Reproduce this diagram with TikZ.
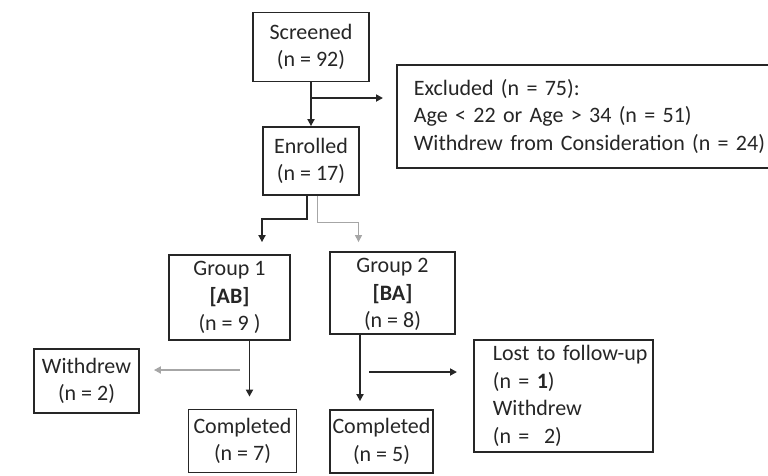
\documentclass[tikz,border=0pt]{standalone}
\usepackage{fontspec}
\setmainfont{Carlito}
\usetikzlibrary{arrows.meta}

\tikzset{
  box/.style={draw=black!85, line width=1.8pt, fill=white, align=center,
    inner sep=0pt, text=black!85, font=\fontsize{22}{27.5}\selectfont},
  flow/.style={line width=1.7pt, draw=black!85, -{Triangle[length=7pt,width=7pt]}},
  faint/.style={flow, draw=black!35}
}

\begin{document}
\begin{tikzpicture}[x=1pt, y=-1pt]
  \useasboundingbox (0,0) rectangle (768,475);

  \node[box, minimum width=116pt, minimum height=69pt] (scr) at (311,47) {Screened\\(n = 92)};
  \node[box, anchor=north west, minimum height=103pt, inner xsep=17pt, text width=400pt,
    align=left] (exc) at (396,64)
    {Excluded (n = 75):\\Age < 22 or Age > 34 (n = 51)\\Withdrew from Consideration (n = 24)};
  \node[box, minimum width=96pt, minimum height=68pt] (enr) at (311,161) {Enrolled\\(n = 17)};

  \node[box, minimum width=121pt, minimum height=85pt] (g1) at (229.5,297.5)
    {Group 1\\\textbf{[AB]}\\(n = 9 )};
  \node[box, minimum width=125pt, minimum height=82pt, text depth=-4pt] (g2) at (392.5,293)
    {Group 2\\\textbf{[BA]}\\(n = 8)};

  \node[box, minimum width=105pt, minimum height=64pt] (wd) at (86.5,381) {Withdrew\\(n = 2)};
  \node[box, minimum width=108pt, minimum height=63pt] (c1) at (242.5,441) {Completed\\(n = 7)};
  \node[box, minimum width=103pt, minimum height=63pt] (c2) at (381.5,441.5) {Completed\\(n = 5)};
  \node[box, anchor=north west, minimum height=112pt, inner xsep=19pt, text width=141pt,
    align=left] (lost) at (473,339)
    {\mbox{Lost to follow-up}\\(n = \textbf{1})\\Withdrew\\(n = \ 2)};

  % screening and enrolment
  \coordinate (s1) at (311,98);
  \draw[flow] (scr.south) -- (enr.north);
  \draw[flow, shorten >=13pt] (s1) -- (s1 -| exc.west);

  % allocation
  \draw[flow, shorten >=12pt] ([xshift=-4pt]enr.south) -- ++(0,23) -| ([xshift=32.5pt]g1.north);
  \draw[faint, line width=1pt, shorten >=9pt] ([xshift=6pt]enr.south) -- ++(0,27)
    -| ([xshift=-34pt]g2.north);

  % follow-up
  \coordinate (w1) at (240,370);
  \coordinate (l1) at (369,372);
  \draw[flow, shorten >=12pt] ([xshift=20pt]g1.south) -- ([xshift=20pt]g1.south |- c1.north);
  \draw[faint, line width=2.4pt, shorten >=14pt] (w1) -- (w1 -| wd.east);
  \draw[flow, shorten >=8pt] ([xshift=-32.5pt]g2.south) -- ([xshift=-32.5pt]g2.south |- c2.north);
  \draw[flow, shorten >=16pt] (l1) -- (l1 -| lost.west);
\end{tikzpicture}
\end{document}
